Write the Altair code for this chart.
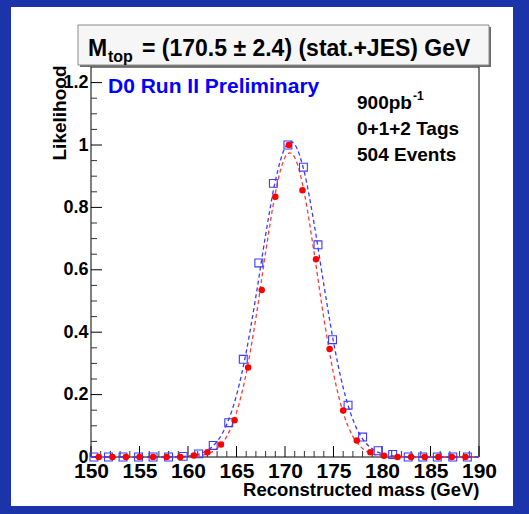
import altair as alt
import pandas as pd

# ---------------- data ----------------
red_mass = [150.8, 152.2, 153.6, 155.0, 156.4, 157.8, 159.2, 160.6, 162.0, 163.4,
            164.8, 166.2, 167.6, 169.0, 170.4, 171.8, 173.2, 174.6, 176.0, 177.4,
            178.8, 180.2, 181.6, 183.0, 184.4, 185.8, 187.2, 188.6]
red_like = [0, 0, 0, 0, 0, 0, 0, 0.005, 0.015, 0.04,
            0.118, 0.287, 0.535, 0.834, 1.0, 0.855, 0.634, 0.346, 0.149, 0.053,
            0.015, 0.004, 0, 0, 0, 0, 0, 0]

blue_mass = [150.3, 151.8, 153.3, 154.9, 156.4, 158.0, 159.5, 161.1, 162.6, 164.2,
             165.7, 167.3, 168.8, 170.3, 171.9, 173.4, 174.9, 176.5, 178.0, 179.6,
             181.1, 182.7, 184.2, 185.7, 187.3, 188.8]
blue_like = [0, 0, 0, 0, 0, 0, 0.002, 0.01, 0.037, 0.11,
             0.313, 0.622, 0.877, 1.0, 0.929, 0.68, 0.376, 0.166, 0.064, 0.02,
             0.008, 0, 0, 0, 0, 0]

red_fit_mass = [150, 158, 160, 161, 162, 163, 164, 165, 166, 167, 168, 169,
                169.5, 170, 170.5, 171, 171.5,
                172, 173, 174, 175, 176, 177, 178, 179, 180, 181, 183, 190]
red_fit = [0, 0, 0.001, 0.003, 0.010, 0.027, 0.066, 0.142, 0.268, 0.446, 0.655, 0.845,
           0.915, 0.960, 0.975, 0.960, 0.915,
           0.845, 0.655, 0.446, 0.268, 0.142, 0.066, 0.027, 0.010, 0.003, 0.001, 0, 0]

blue_fit_mass = [150, 158, 160, 161, 162, 163, 164, 165, 166, 167, 168, 169, 170,
                 170.6, 171,
                 172, 173, 174, 175, 176, 177, 178, 179, 180, 181, 182, 184, 190]
blue_fit = [0, 0, 0.003, 0.008, 0.022, 0.050, 0.105, 0.198, 0.336, 0.515, 0.711, 0.884, 0.991,
            1.01, 1.002,
            0.912, 0.748, 0.553, 0.369, 0.222, 0.120, 0.058, 0.026, 0.010, 0.004, 0.001, 0, 0]

x_major_ticks = [150, 155, 160, 165, 170, 175, 180, 185, 190]
y_major_ticks = [0, 0.2, 0.4, 0.6, 0.8, 1.0, 1.2]
x_minor_ticks = [v for v in range(150, 191) if v % 5 != 0]
y_minor_ticks = [round(i * 0.05, 2) for i in range(0, 25) if i % 4 != 0]

title_main = "= (170.5 \u00b1 2.4) (stat.+JES) GeV"
label_d0 = "D0 Run II Preliminary"
info_lines = ["0+1+2 Tags", "504 Events"]

# ---------------- layout ----------------
W, H = 388, 390
L, T = 91, 67
FONT = "Liberation Sans"
BLUE_BG = "#1b34a9"


def px(x):
    return x - L


def py(y):
    return y - T


xs = alt.Scale(domain=[150, 190], nice=False, zero=False)
ys = alt.Scale(domain=[0, 1.25], nice=False)

x_axis = alt.Axis(values=x_major_ticks, format="d", labelFont=FONT, labelFontWeight="bold",
                  labelFontSize=21, labelColor="black", ticks=False, tickSize=0, domain=False,
                  grid=False, labelPadding=3, labelFlush=False, zindex=2,
                  title="Reconstructed mass (GeV)", titleFont=FONT, titleFontWeight="bold",
                  titleFontSize=18.5, titleColor="black", titleAlign="right",
                  titleBaseline="alphabetic", titleX=W, titleY=38)
y_axis = alt.Axis(values=y_major_ticks, format="~g", labelFont=FONT, labelFontWeight="bold",
                  labelFontSize=18, labelColor="black", ticks=False, tickSize=0, domain=False,
                  grid=False, labelPadding=3, labelFlush=False, zindex=2,
                  title="Likelihood", titleFont=FONT, titleFontWeight="bold",
                  titleFontSize=19, titleColor="black", titleAngle=270, titleAlign="right",
                  titleBaseline="alphabetic", titleX=-26, titleY=-2)

X = alt.X("m:Q", scale=xs, axis=x_axis)
Y = alt.Y("v:Q", scale=ys, axis=y_axis)

one = pd.DataFrame({"d": [0]})

panel = alt.Chart(one).mark_rect(color="white").encode(
    x=alt.value(px(11)), x2=alt.value(px(513)), y=alt.value(py(7)), y2=alt.value(py(506)))

frame = alt.Chart(one).mark_rect(fillOpacity=0, stroke="black", strokeWidth=1).encode(
    x=alt.value(0), x2=alt.value(W), y=alt.value(0), y2=alt.value(H))

red_df = pd.DataFrame({"m": red_mass, "v": red_like})
blue_df = pd.DataFrame({"m": blue_mass, "v": blue_like})
red_fit_df = pd.DataFrame({"m": red_fit_mass, "v": red_fit})
blue_fit_df = pd.DataFrame({"m": blue_fit_mass, "v": blue_fit})

red_line = alt.Chart(red_fit_df).mark_line(color="#ff3b3b", strokeDash=[4, 3], strokeWidth=1.3,
                                           interpolate="monotone").encode(x=X, y=Y)
blue_line = alt.Chart(blue_fit_df).mark_line(color="#3b3bff", strokeDash=[4, 3], strokeWidth=1.3,
                                             interpolate="monotone").encode(x=X, y=Y)
blue_pts = alt.Chart(blue_df).mark_point(shape="square", size=62, filled=False, color="#3b3bff",
                                         strokeWidth=1.1, opacity=1).encode(x=X, y=Y)
red_pts = alt.Chart(red_df).mark_circle(size=42, color="#ff0000", opacity=1).encode(x=X, y=Y)

# ticks inside the frame
xmaj = alt.Chart(pd.DataFrame({"m": x_major_ticks})).mark_rule(color="black", strokeWidth=1).encode(
    x=alt.X("m:Q", scale=xs), y=alt.value(H), y2=alt.value(H - 11))
xmin = alt.Chart(pd.DataFrame({"m": x_minor_ticks})).mark_rule(color="#333", strokeWidth=1).encode(
    x=alt.X("m:Q", scale=xs), y=alt.value(H), y2=alt.value(H - 6))
ymaj = alt.Chart(pd.DataFrame({"v": y_major_ticks})).mark_rule(color="black", strokeWidth=1).encode(
    y=alt.Y("v:Q", scale=ys), x=alt.value(0), x2=alt.value(11))
ymin = alt.Chart(pd.DataFrame({"v": y_minor_ticks})).mark_rule(color="#333", strokeWidth=1).encode(
    y=alt.Y("v:Q", scale=ys), x=alt.value(0), x2=alt.value(6))

# title box
shadow = alt.Chart(one).mark_rect(color="#6a6a6a").encode(
    x=alt.value(px(80)), x2=alt.value(px(491)), y=alt.value(py(27)), y2=alt.value(py(67)))
box = alt.Chart(one).mark_rect(fill="#f6f6f6", stroke="#8a8a8a", strokeWidth=1).encode(
    x=alt.value(px(78)), x2=alt.value(px(489)), y=alt.value(py(25)), y2=alt.value(py(65)))


def txt(s, x, y, size, color="black", align="left"):
    return alt.Chart(pd.DataFrame({"t": [s]})).mark_text(
        font=FONT, fontWeight="bold", fontSize=size, color=color, align=align,
        baseline="alphabetic").encode(x=alt.value(px(x)), y=alt.value(py(y)), text="t:N")


t_M = txt("M", 88, 56, 23)
t_top = txt("top", 108, 62, 16)
t_rest = txt(title_main, 142, 56, 23)
t_d0 = txt(label_d0, 108, 93, 21, color="#0000ff")
t_pb = txt("900pb", 357, 109, 19)
t_sup = txt("-1", 413, 100, 12)
t_tags = txt(info_lines[0], 357, 135, 19)
t_evt = txt(info_lines[1], 357, 161, 19)

chart = alt.layer(
    panel, frame, xmin, xmaj, ymin, ymaj, red_line, blue_line, blue_pts, red_pts,
    shadow, box, t_M, t_top, t_rest, t_d0, t_pb, t_sup, t_tags, t_evt
).properties(
    width=W, height=H,
    autosize="none",
    padding={"left": L, "top": T, "right": 529 - L - W, "bottom": 514 - T - H},
).configure(background=BLUE_BG).configure_view(stroke="black", strokeWidth=1)

chart.save("out.html", embed_options={"renderer": "svg", "actions": False})
